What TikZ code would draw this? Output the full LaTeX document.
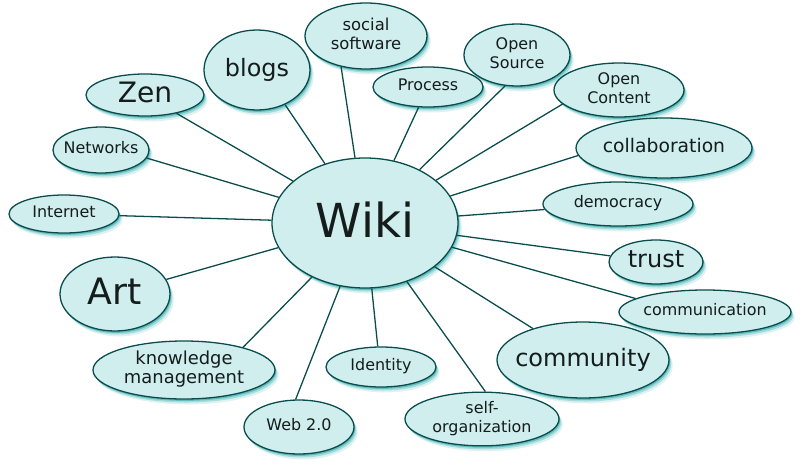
\documentclass[tikz,border=0pt]{standalone}
\usepackage{fontspec}
\setmainfont{DejaVu Sans}
\usetikzlibrary{shapes.geometric,shadows}
\definecolor{wikifill}{RGB}{208,238,238}
\definecolor{wikiline}{RGB}{10,76,76}
\definecolor{wikishade}{RGB}{40,165,165}
\definecolor{wikitext}{RGB}{20,28,28}
\newcommand{\bub}[1]{\makebox[0pt]{\begin{tabular}{@{}c@{}}#1\end{tabular}}}

\begin{document}
\begin{tikzpicture}[x=0.03cm, y=-0.03cm,
    sz/.style 2 args={minimum width=#1*0.06cm, minimum height=#2*0.06cm},
    fs/.style={font=\fontsize{#1}{16.2}\selectfont},
    bubble/.style={ellipse, draw=wikiline, line width=1.1pt, fill=wikifill, text=wikitext, inner sep=0pt, fs=13.6,
      drop shadow={fill=wikishade, opacity=.15, shadow xshift=3.2pt, shadow yshift=-4.6pt},
      drop shadow={fill=wikishade, opacity=.3, shadow xshift=2pt, shadow yshift=-3pt},
      drop shadow={fill=wikishade, opacity=.55, shadow xshift=1pt, shadow yshift=-1.6pt}},
    spoke/.style={draw=wikiline, line width=1.1pt}]
  \useasboundingbox (0,0) rectangle (801,470);
  % hub
  \node[bubble, sz={93}{65}, fs=40] (wiki) at (365,223) {\bub{Wiki}};
  % upper ring
  \node[bubble, sz={61}{33}, fs=14] (socsw) at (366,36) {\bub{social\\software}};
  \node[bubble, sz={53}{40}, fs=20.4] (blogs) at (257,70) {\bub{blogs}};
  \node[bubble, sz={59}{21}, fs=24] (zen) at (145,95) {\bub{Zen}};
  \node[bubble, sz={48}{23}] (networks) at (101,150) {\bub{Networks}};
  \node[bubble, sz={55}{19}] (internet) at (64,214) {\bub{Internet}};
  \node[bubble, sz={55}{20}] (process) at (428,87) {\bub{Process}};
  \node[bubble, sz={53}{31}] (opensrc) at (517,55) {\bub{Open\\Source}};
  \node[bubble, sz={65}{27}] (opencnt) at (619,90) {\bub{Open\\Content}};
  \node[bubble, sz={88}{30}, fs=16] (collab) at (664,148) {\bub{collaboration}};
  \node[bubble, sz={75}{22}] (democracy) at (618,204) {\bub{democracy}};
  % lower ring
  \node[bubble, sz={47}{22}, fs=20.5] (trust) at (656,262) {\bub{trust}};
  \node[bubble, sz={86}{22}] (comm) at (705,312) {\bub{communication}};
  \node[bubble, sz={86}{38}, fs=20.5] (community) at (583,360) {\bub{community}};
  \node[bubble, sz={77}{26}] (selforg) at (482,419) {\bub{self-\\organization}};
  \node[bubble, sz={55}{20}] (identity) at (381,367) {\bub{Identity}};
  \node[bubble, sz={55}{27}] (web) at (299,427) {\bub{Web 2.0}};
  \node[bubble, sz={91}{29}, fs=15.3] (km) at (184,370) {\bub{knowledge\\management}};
  \node[bubble, sz={55}{37}, fs=31] (art) at (115,294) {\bub{Art}};
  % spokes
  \draw[spoke] (wiki) -- (socsw.231) (wiki) -- (blogs.309) (wiki) -- (zen) (wiki) -- (networks.350)
    (wiki) -- (internet) (wiki) -- (process) (wiki) -- (opensrc.249) (wiki) -- (opencnt.194)
    (wiki) -- (collab.185) (wiki) -- (democracy) (wiki) -- (trust) (wiki) -- (comm.169)
    (wiki) -- (community) (wiki) -- (selforg.83) (wiki) -- (identity.99) (wiki) -- (web.97)
    (wiki) -- (km.21) (wiki) -- (art);
\end{tikzpicture}
\end{document}
